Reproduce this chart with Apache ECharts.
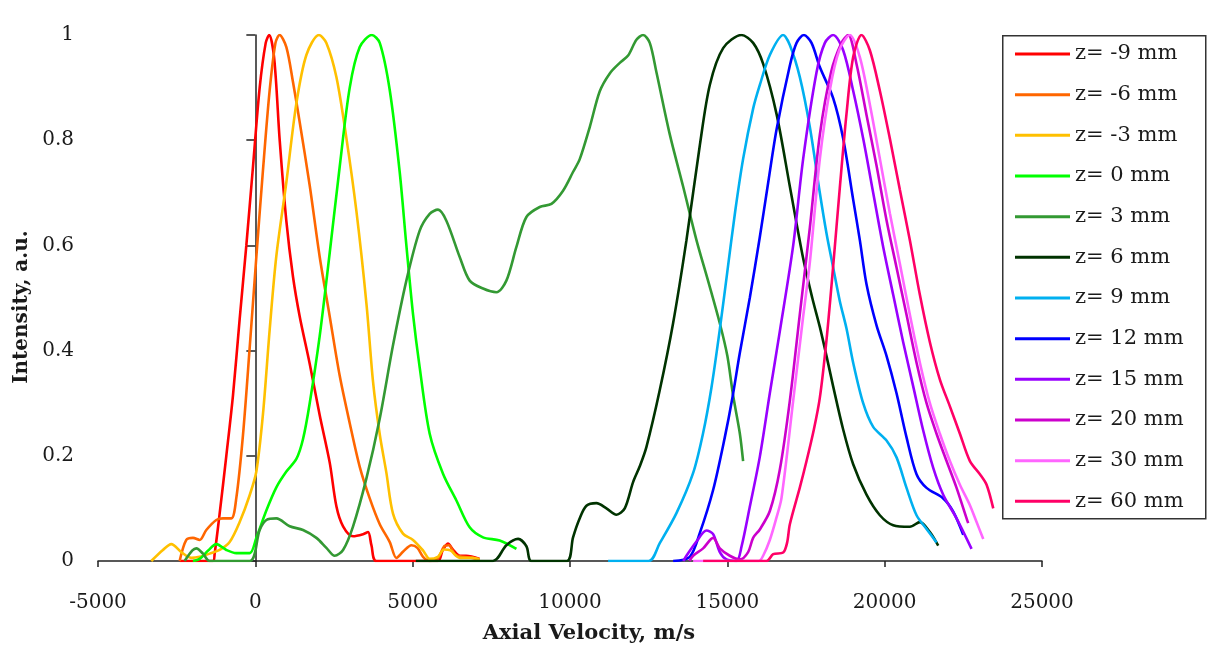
<!DOCTYPE html>
<html>
<head>
<meta charset="utf-8">
<script src="https://cdn.jsdelivr.net/npm/echarts@6/dist/echarts.min.js"></script>
<style>
html,body{margin:0;padding:0;background:#fff;}
#chart{width:1209px;height:656px;}
</style>
</head>
<body>
<div id="chart"></div>
<script>
// Series names (legend labels)
const seriesNames = ['z= -9 mm','z= -6 mm','z= -3 mm','z= 0 mm','z= 3 mm','z= 6 mm','z= 9 mm','z= 12 mm','z= 15 mm','z= 20 mm','z= 30 mm','z= 60 mm'];
const seriesColors = ['#FF0000','#FF6600','#FFC000','#00FF00','#339933','#003300','#00B0F0','#0000FF','#9900FF','#CC00CC','#FF66FF','#FF0066'];
const xTicks = [-5000,0,5000,10000,15000,20000,25000];
const yTicks = [0,0.2,0.4,0.6,0.8,1];
const xTitle = 'Axial Velocity, m/s';
const yTitle = 'Intensity, a.u.';

// [axial velocity m/s, intensity a.u.]
const zm9 = [[-2400,0],[-1350,0],[-1293,0.014],[-1134,0.09],[-922,0.2],[-710,0.315],[-498,0.46],[-286,0.6],[-74,0.75],[138,0.9],[330,0.985],[440,1.0],[600,0.955],[774,0.8],[986,0.646],[1198,0.54],[1410,0.465],[1728,0.375],[2046,0.277],[2364,0.187],[2576,0.104],[2788,0.066],[3106,0.047],[3424,0.051],[3583,0.055],[3689,0.03],[3848,0],[5800,0],[5950,0.02],[6120,0.033],[6300,0.02],[6495,0.01],[6700,0.01],[7130,0.004]];
const zm6 = [[-2406,0],[-2194,0.04],[-1982,0.044],[-1770,0.04],[-1558,0.059],[-1240,0.078],[-1028,0.081],[-763,0.081],[-604,0.12],[-392,0.24],[-180,0.405],[32,0.578],[244,0.744],[456,0.895],[640,0.985],[770,1.0],[986,0.977],[1198,0.91],[1410,0.834],[1728,0.714],[2046,0.578],[2364,0.465],[2682,0.352],[3000,0.262],[3318,0.179],[3636,0.119],[3954,0.07],[4272,0.036],[4484,0.006],[4700,0.018],[4960,0.03],[5150,0.025],[5330,0.008],[5540,0.0],[5800,0.005],[6000,0.028],[6150,0.03],[6350,0.012],[6600,0.008],[6900,0.006],[7100,0.004]];
const zm3 = [[-3307,0],[-2936,0.021],[-2671,0.032],[-2353,0.017],[-2035,0.006],[-1770,0.008],[-1452,0.014],[-1134,0.021],[-816,0.036],[-498,0.074],[-180,0.125],[32,0.17],[244,0.28],[456,0.44],[668,0.58],[986,0.72],[1304,0.87],[1622,0.962],[2020,1.0],[2258,0.985],[2576,0.92],[2894,0.804],[3212,0.665],[3530,0.49],[3742,0.34],[3951,0.242],[4164,0.168],[4375,0.09],[4692,0.052],[5010,0.04],[5328,0.02],[5540,0.004],[5800,0.008],[6000,0.022],[6200,0.02],[6495,0.006],[6900,0.006],[7130,0.003]];
const z0 = [[-1982,0],[-1770,0.004],[-1500,0.02],[-1240,0.032],[-922,0.021],[-604,0.015],[-180,0.015],[32,0.044],[350,0.096],[668,0.14],[986,0.17],[1304,0.194],[1516,0.232],[1728,0.3],[2046,0.428],[2364,0.586],[2682,0.75],[3000,0.9],[3318,0.977],[3700,1.0],[3954,0.985],[4272,0.895],[4587,0.74],[4800,0.6],[5010,0.47],[5223,0.368],[5541,0.242],[5964,0.166],[6390,0.115],[6812,0.064],[7235,0.045],[7766,0.039],[8297,0.023]];
const z3 = [[-2247,0],[-2000,0.02],[-1876,0.024],[-1664,0.014],[-1452,0],[-180,0],[138,0.059],[350,0.078],[668,0.081],[1092,0.066],[1516,0.059],[1940,0.044],[2258,0.025],[2523,0.01],[2788,0.021],[3106,0.066],[3530,0.157],[3951,0.27],[4375,0.41],[4800,0.533],[5223,0.628],[5541,0.66],[5806,0.668],[6071,0.647],[6495,0.578],[6812,0.533],[7235,0.518],[7660,0.511],[7978,0.533],[8297,0.597],[8615,0.654],[9038,0.673],[9410,0.679],[9779,0.704],[10100,0.74],[10310,0.764],[10628,0.825],[10946,0.893],[11264,0.927],[11582,0.947],[11846,0.961],[12111,0.991],[12323,1.0],[12535,0.985],[12747,0.929],[13171,0.811],[13595,0.712],[14019,0.61],[14400,0.53],[14760,0.452],[15000,0.39],[15183,0.315],[15396,0.243],[15501,0.19]];
const z6 = [[5100,0],[7550,0],[7978,0.03],[8350,0.042],[8615,0.028],[8775,0],[9900,0],[10097,0.045],[10300,0.08],[10522,0.105],[10840,0.11],[11158,0.1],[11475,0.088],[11740,0.1],[12005,0.15],[12217,0.18],[12430,0.217],[12853,0.325],[13276,0.452],[13701,0.61],[14125,0.79],[14443,0.905],[14867,0.975],[15450,1.0],[15820,0.985],[16139,0.945],[16563,0.85],[16987,0.712],[17411,0.575],[17700,0.5],[17939,0.445],[18151,0.39],[18363,0.332],[18681,0.25],[18999,0.184],[19423,0.126],[19847,0.087],[20271,0.068],[20801,0.065],[21119,0.074],[21437,0.055],[21702,0.029]];
const z9 = [[11210,0],[12500,0],[12853,0.034],[13383,0.091],[13911,0.167],[14229,0.243],[14496,0.33],[14760,0.44],[15000,0.55],[15250,0.665],[15503,0.765],[15820,0.86],[16033,0.905],[16351,0.962],[16775,1.0],[16986,0.981],[17304,0.92],[17622,0.825],[17939,0.7],[18151,0.623],[18363,0.558],[18575,0.494],[18787,0.442],[18999,0.377],[19317,0.3],[19635,0.255],[20059,0.229],[20377,0.197],[20695,0.139],[21013,0.087],[21331,0.061],[21649,0.035]];
const z12 = [[13277,0],[13807,0.008],[14124,0.053],[14548,0.135],[14919,0.235],[15160,0.31],[15395,0.395],[15713,0.5],[16030,0.615],[16300,0.72],[16563,0.82],[16987,0.942],[17200,0.985],[17431,1.0],[17675,0.985],[17939,0.939],[18363,0.88],[18681,0.803],[18999,0.687],[19211,0.61],[19423,0.526],[19741,0.448],[20059,0.39],[20377,0.319],[20695,0.235],[21013,0.165],[21331,0.139],[21861,0.119],[22179,0.094],[22497,0.05]];
const z15 = [[13600,0],[13701,0.01],[14019,0.037],[14337,0.058],[14549,0.051],[14761,0.017],[14972,0.003],[15290,0],[15450,0.027],[15714,0.103],[16032,0.198],[16350,0.319],[16669,0.437],[17093,0.6],[17411,0.765],[17835,0.929],[18100,0.985],[18363,1.0],[18681,0.971],[18999,0.894],[19317,0.803],[19635,0.7],[19953,0.597],[20271,0.506],[20589,0.416],[20907,0.332],[21225,0.248],[21543,0.177],[21861,0.126],[22285,0.081],[22762,0.023]];
const z20 = [[13800,0],[13913,0.01],[14231,0.024],[14549,0.044],[14761,0.024],[15078,0.01],[15400,0.003],[15661,0.017],[15820,0.044],[16032,0.06],[16351,0.095],[16669,0.174],[16987,0.305],[17305,0.47],[17623,0.634],[17941,0.811],[18300,0.93],[18628,0.985],[18840,1.0],[19105,0.945],[19423,0.848],[19741,0.752],[20059,0.648],[20377,0.558],[20695,0.468],[21013,0.377],[21331,0.3],[21649,0.242],[21967,0.19],[22285,0.139],[22603,0.081],[22655,0.072]];
const z30 = [[13913,0],[16000,0],[16138,0.01],[16350,0.04],[16550,0.08],[16722,0.12],[17093,0.305],[17400,0.46],[17623,0.568],[17941,0.765],[18259,0.896],[18550,0.97],[18893,1.0],[19211,0.958],[19529,0.868],[19847,0.765],[20165,0.661],[20483,0.565],[20801,0.468],[21119,0.377],[21437,0.3],[21755,0.242],[22073,0.19],[22391,0.145],[22709,0.106],[22921,0.074],[23133,0.042]];
const z60 = [[14231,0],[16244,0],[16457,0.013],[16775,0.016],[16900,0.035],[16987,0.07],[17305,0.14],[17517,0.19],[17750,0.25],[17939,0.31],[18151,0.42],[18363,0.56],[18575,0.71],[18787,0.85],[18999,0.958],[19264,1.0],[19529,0.971],[19847,0.894],[20165,0.803],[20483,0.706],[20801,0.61],[21119,0.506],[21437,0.416],[21755,0.345],[22073,0.294],[22391,0.242],[22709,0.19],[23027,0.165],[23239,0.145],[23451,0.1]];

const allData = [zm9, zm6, zm3, z0, z3, z6, z9, z12, z15, z20, z30, z60];

const FONT = '"DejaVu Serif", "Liberation Serif", serif';
const chart = echarts.init(document.getElementById('chart'), null, {renderer: 'canvas'});
const series = seriesNames.map((name, i) => ({
  name: name,
  type: 'line',
  data: allData[i],
  smooth: 0.3,
  showSymbol: false,
  symbol: 'none',
  lineStyle: {color: seriesColors[i], width: 2.6},
  itemStyle: {color: seriesColors[i]},
  emphasis: {disabled: true},
  z: 2
}));

chart.setOption({
  animation: false,
  backgroundColor: '#ffffff',
  grid: {left: 98, right: 167, top: 35, bottom: 95, containLabel: false},
  xAxis: {
    type: 'value', min: xTicks[0], max: xTicks[xTicks.length - 1], interval: 5000,
    axisLine: {show: true, onZero: false, lineStyle: {color: '#222', width: 1.5}},
    axisTick: {show: true, inside: false, length: 6, lineStyle: {color: '#222', width: 1.5}},
    axisLabel: {fontFamily: FONT, fontSize: 20, color: '#1a1a1a', margin: 32, formatter: v => String(v)},
    splitLine: {show: false}
  },
  yAxis: {
    type: 'value', min: yTicks[0], max: yTicks[yTicks.length - 1], interval: 0.2,
    axisLine: {show: true, lineStyle: {color: '#222', width: 1.5}},
    axisTick: {show: true, inside: false, length: 9, lineStyle: {color: '#222', width: 1.5}},
    axisLabel: {fontFamily: FONT, fontSize: 20, color: '#1a1a1a', margin: 24},
    splitLine: {show: false}
  },
  legend: {
    orient: 'vertical',
    left: 1015, top: 42,
    itemWidth: 55, itemHeight: 3,
    icon: 'rect',
    itemGap: 16.67,
    padding: 0,
    textStyle: {fontFamily: FONT, fontSize: 21, color: '#1a1a1a', lineHeight: 24},
    data: seriesNames
  },
  graphic: [{
    type: 'rect', left: 1002, top: 35, z: 0,
    shape: {width: 203, height: 483},
    style: {fill: '#fff', stroke: '#333', lineWidth: 1.5}
  }, {
    type: 'text', x: 589, y: 634, z: 5,
    style: {text: xTitle, font: 'bold 21px ' + FONT, fill: '#1a1a1a', textAlign: 'center', textVerticalAlign: 'middle'}
  }, {
    type: 'text', x: 22, y: 307, rotation: Math.PI / 2, z: 5,
    style: {text: yTitle, font: 'bold 20px ' + FONT, fill: '#1a1a1a', textAlign: 'center', textVerticalAlign: 'middle'}
  }],
  series: series
});
</script>
</body>
</html>
